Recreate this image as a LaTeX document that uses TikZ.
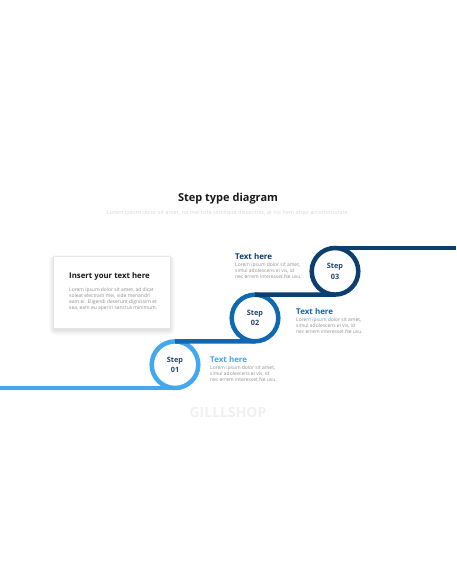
\documentclass[tikz,border=0pt]{standalone}
\usepackage{fontspec}
\setmainfont{Open Sans}
\usetikzlibrary{calc, positioning}
\definecolor{stepone}{HTML}{42A8F2}
\definecolor{steptwo}{HTML}{0E68B2}
\definecolor{stepthree}{HTML}{0C3F70}
\definecolor{steptext}{HTML}{24446B}
\definecolor{loremgray}{HTML}{8E8E8E}
\def\rd{46.6pt}
\def\lw{4.5pt}
\tikzset{
    ring/.style = {
        draw, circle, minimum size=\rd, inner sep=0pt, outer sep=0pt, line width=\lw, fill=white,
        align=center, text=steptext, font=\fontsize{7.3}{10.5}\selectfont\bfseries
    },
    track/.style = {line width=\lw},
    heading/.style = {anchor=west, inner sep=0pt, font=\fontsize{8}{9}\selectfont\bfseries},
    lorem/.style = {
        inner sep=0pt, align=left, text=loremgray, font=\fontsize{4.95}{6}\selectfont
    },
    textbox/.style = {fill=white, minimum width=116pt, minimum height=71pt, inner sep=0pt},
}

\begin{document}
\begin{tikzpicture}[x=1pt, y=-1pt]
        \useasboundingbox (0,0) rectangle (456,586);

        % Title
        \node[font=\fontsize{11}{13}\selectfont\bfseries, text=black!90] (title) at (228,199) {Step type diagram};
        \node[font=\fontsize{5.6}{6}\selectfont, text=black!15] (subtitle) at (228,213)
            {Lorem ipsum dolor sit amet, no mel tota similique dissentias, at his fiem atqui accommodare.};

        % Text box on the left, with a soft shadow
        \coordinate (boxc) at (112,292.5);
        \foreach \s/\o in {6/0.02, 4.5/0.025, 3/0.03, 1.5/0.04}{
            \fill[black, opacity=\o, rounded corners=\s pt]
                ($(boxc)+(-58-0.8*\s, -35.5-0.3*\s)$) rectangle ($(boxc)+(58+0.8*\s, 37+\s)$);
        }
        \node[textbox] (box) at (boxc) {};
        \node[heading, text=black!90, font=\fontsize{7.8}{9}\selectfont\bfseries] (boxhead) at (69,276) {Insert your text here};
        \node[lorem, below right=7pt and 0pt of boxhead.south west] (boxtext)
            {Lorem ipsum dolor sit amet, ad dicat\\ soleat electram mei, vide menandri\\
             eam ei. Eligendi deserunt dignissim et\\ sea, eam eu aperiri sanctus minimum.};

        % Place the steps
        \node[ring, draw=stepone] (s1) at (175,364.7) {Step\\01};
        \node[ring, draw=steptwo] (s2) at (255,318) {Step\\02};
        \node[ring, draw=stepthree] (s3) at (335,271.3) {Step\\03};

        % Draw the track
        \coordinate (west) at (0,0);
        \coordinate (east) at (456,0);
        \draw[track, stepone] (s1.south -| west) -- (s1.south);
        \draw[track, steptwo] (s1.north) -- (s2.south);
        \draw[track, stepthree] (s2.north) -- (s3.south);
        \draw[track, stepthree] (s3.north) -- (s3.north -| east);

        % Step texts
        \node[heading, text=stepthree] (h3) at (235,256) {Text here};
        \node[lorem, below right=3.5pt and 0pt of h3.south west] (l3)
            {Lorem ipsum dolor sit amet,\\ simul adolescens ei vis, id\\ nec errem interesset.Ne usu.};
        \node[heading, text=steptwo] (h2) at (296,311) {Text here};
        \node[lorem, below right=3.5pt and 0pt of h2.south west] (l2)
            {Lorem ipsum dolor sit amet,\\ simul adolescens ei vis, id\\ nec errem interesset.Ne usu.};
        \node[heading, text=stepone] (h1) at (210,359) {Text here};
        \node[lorem, below right=3.5pt and 0pt of h1.south west] (l1)
            {Lorem ipsum dolor sit amet,\\ simul adolescens ei vis, id\\ nec errem interesset.Ne usu.};

        % Watermark
        \node[font=\fontsize{14}{16}\selectfont\bfseries, text=black!6] (mark) at (228,412) {GILLLSHOP};
    \end{tikzpicture}
\end{document}
